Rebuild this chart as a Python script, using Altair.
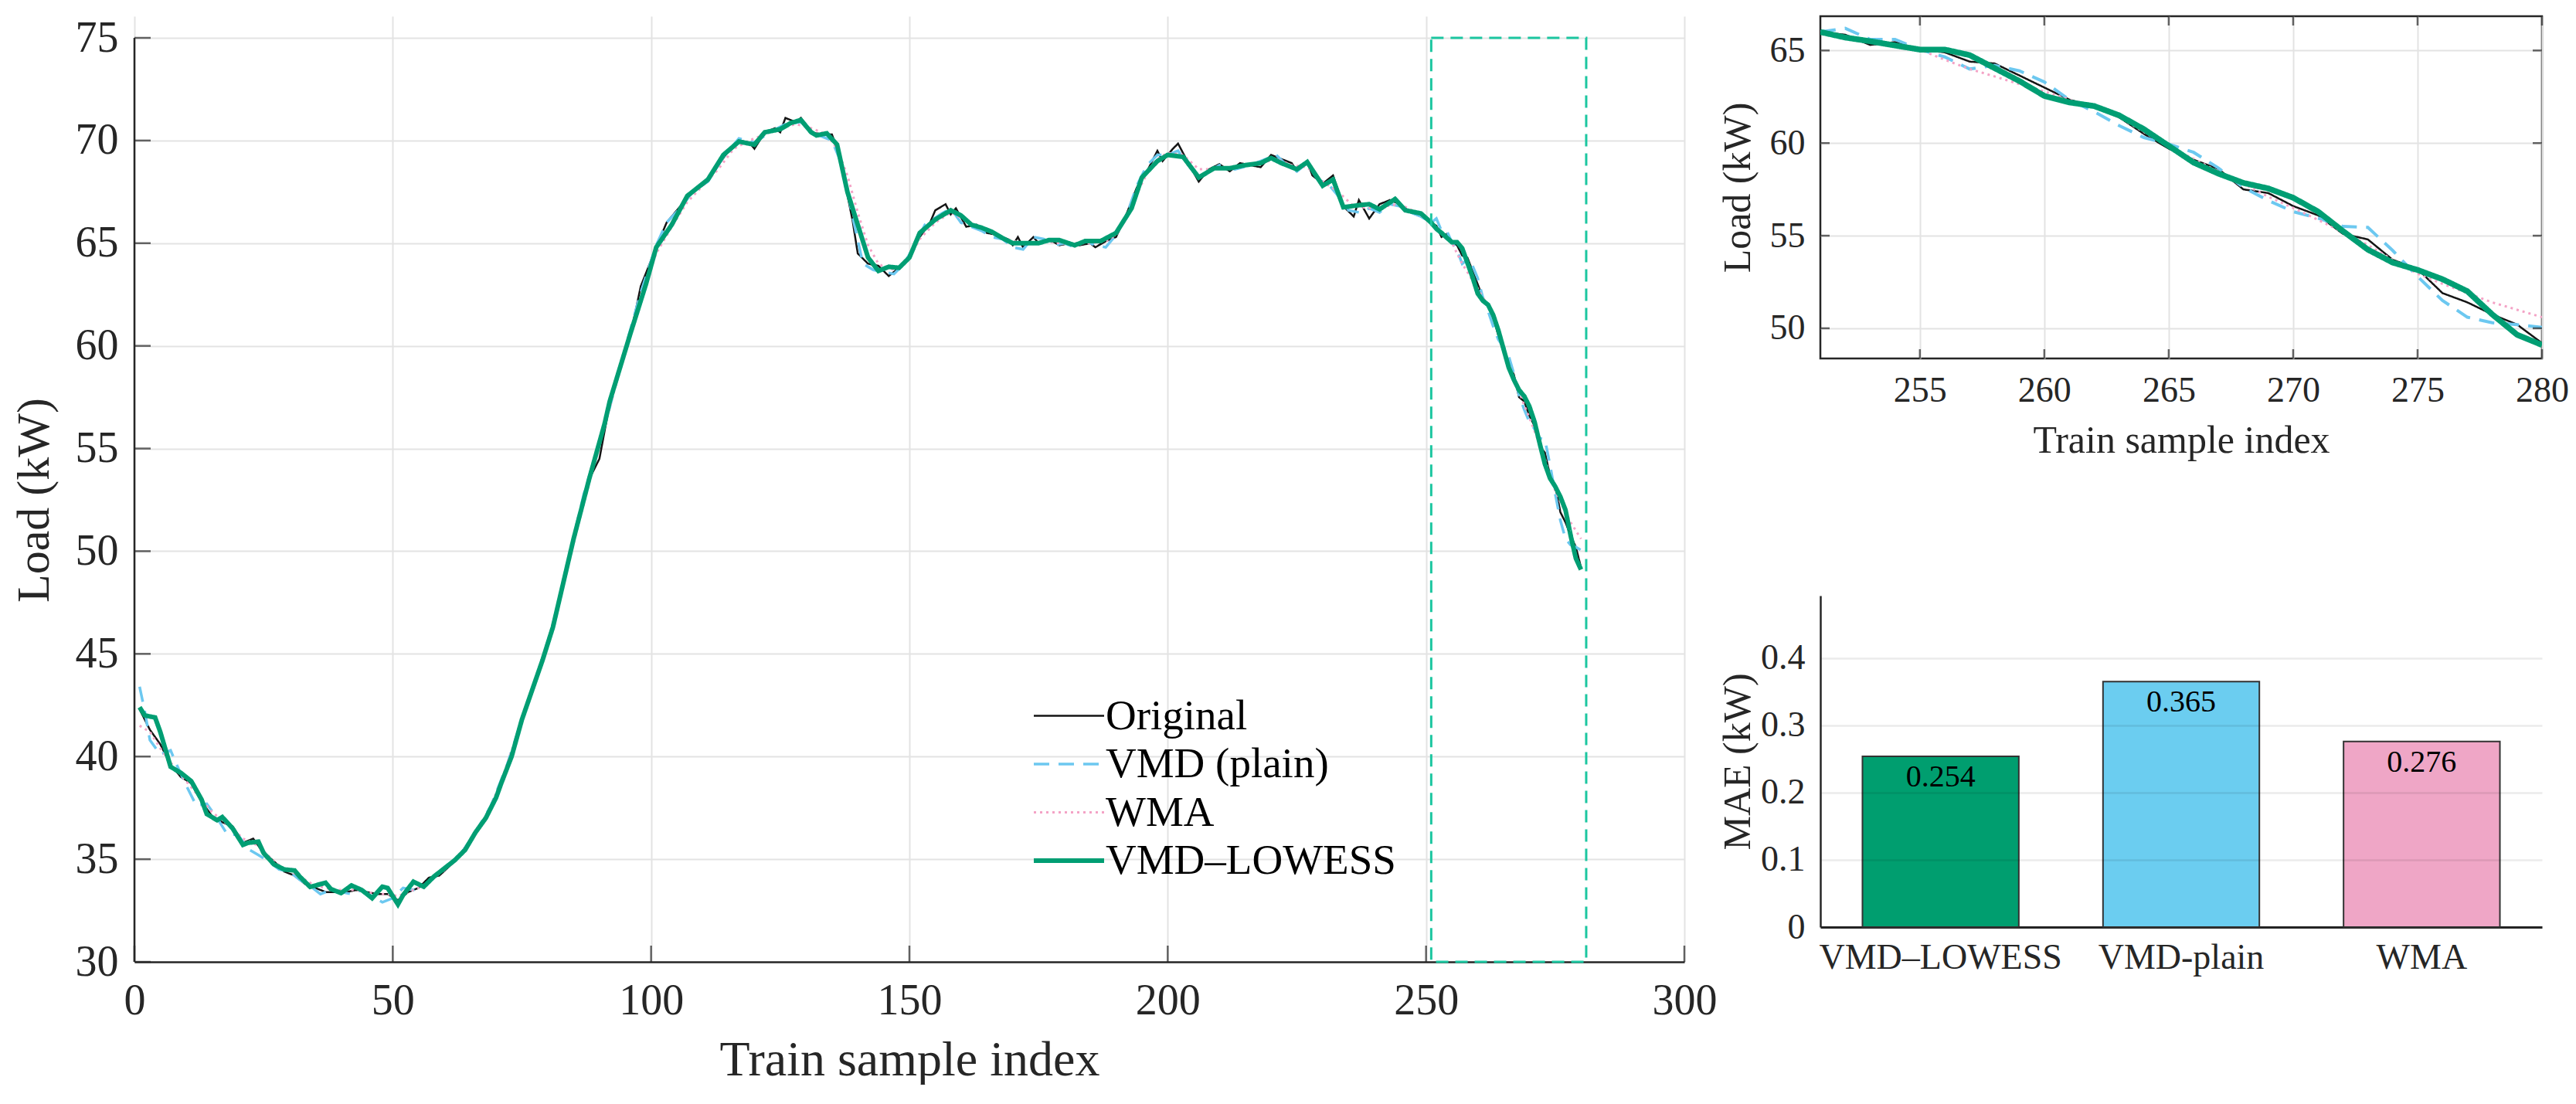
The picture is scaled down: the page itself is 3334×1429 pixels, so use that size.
import altair as alt
import pandas as pd

FONT = "Liberation Serif"
INK = "#262626"

# ---------------- series (index, value) ----------------
SERIES = ["Original", "VMD (plain)", "WMA", "VMD–LOWESS"]
COLORS = ["#141414", "#6cc8f0", "#f4a3c6", "#009e73"]
DASHES = [[1, 0], [20, 12], [3, 5], [1, 0]]
WIDTHS = [2.5, 3.5, 3, 6]
INSET_WIDTHS = [2.5, 4, 3, 7.5]

tail_idx = list(range(251, 281))

lowess_idx = [1, 2, 4, 5, 7, 9, 11, 13, 14, 16, 17, 19, 21, 22, 24, 25, 27, 29, 31, 32, 34, 37, 38, 40,
              42, 44, 46, 48, 49, 51, 52, 54, 56, 58, 62, 64, 66, 68, 70, 71, 73, 75, 79, 81, 85, 88,
              91, 92, 96, 99, 101, 104, 107, 111, 114, 117, 120, 122, 125, 127, 129, 131, 132, 134,
              136, 138, 140, 142, 144, 146, 148, 150, 152, 155, 158, 160, 162, 164, 166, 168, 170,
              172, 175, 177, 179, 182, 184, 187, 190, 193, 195, 198, 200, 203, 206, 209, 212, 215,
              218, 220, 222, 225, 227, 230, 232, 234, 237, 239, 241, 244, 246, 249] + tail_idx
lowess_val = [42.4, 42.0, 41.9, 41.2, 39.5, 39.2, 38.8, 37.9, 37.2, 36.9, 37.05, 36.5, 35.7, 35.8,
              35.85, 35.3, 34.75, 34.5, 34.45, 34.15, 33.65, 33.85, 33.55, 33.35, 33.72, 33.5, 33.1,
              33.66, 33.6, 32.8, 33.25, 33.9, 33.66, 34.16, 34.95, 35.45, 36.3, 37.0, 38.0, 38.7,
              40.0, 41.8, 44.7, 46.3, 50.6, 53.5, 56.2, 57.3, 60.6, 63.0, 64.8, 65.9, 67.3, 68.1,
              69.3, 69.95, 69.8, 70.4, 70.55, 70.85, 71.0, 70.4, 70.25, 70.35, 69.8, 67.5, 65.9,
              64.3, 63.65, 63.85, 63.8, 64.3, 65.5, 66.15, 66.6, 66.35, 65.9, 65.75, 65.55, 65.25,
              65.0, 65.0, 65.0, 65.15, 65.15, 64.9, 65.1, 65.1, 65.5, 66.7, 68.2, 69.0, 69.3, 69.2,
              68.2, 68.65, 68.65, 68.8, 68.9, 69.15, 68.9, 68.6, 68.95, 67.8, 68.1, 66.75, 66.85,
              66.9, 66.65, 67.15, 66.6, 66.45,
              66.0, 65.7, 65.5, 65.27, 65.05, 65.05, 64.75, 64.05, 63.35, 62.55, 62.2, 62.0, 61.5,
              60.75, 59.85, 58.95, 58.35, 57.85, 57.55, 57.05, 56.3, 55.25, 54.25, 53.55, 53.15,
              52.65, 52.0, 50.75, 49.65, 49.1]

orig_idx = [1, 3, 5, 7, 9, 11, 13, 15, 17, 19, 21, 23, 25, 27, 29, 31, 33, 35, 37, 39, 41, 43, 45,
            47, 49, 51, 53, 55, 57, 59, 62, 65, 67, 70, 73, 76, 79, 82, 85, 88, 90, 92, 94, 96, 98,
            101, 103, 105, 107, 109, 111, 113, 115, 117, 119, 120, 122, 124, 125, 126, 128, 129,
            131, 133, 135, 136, 137, 139, 140, 142, 144, 146, 148, 150, 152, 154, 155, 157, 158,
            159, 161, 163, 165, 167, 169, 170, 171, 172, 174, 175, 177, 179, 181, 183, 185, 186,
            188, 190, 192, 194, 196, 198, 199, 201, 202, 204, 206, 208, 210, 212, 214, 216, 218,
            220, 222, 224, 225, 227, 228, 230, 232, 234, 236, 237, 239, 241, 243, 245, 247,
            249] + tail_idx
orig_val = [42.3, 41.3, 40.6, 39.6, 39.0, 38.7, 37.8, 37.1, 36.8, 36.6, 35.8, 36.0, 35.3, 34.9,
            34.4, 34.2, 33.8, 33.6, 33.4, 33.4, 33.4, 33.5, 33.4, 33.3, 33.3, 33.0, 33.4, 33.6,
            34.1, 34.2, 34.9, 35.9, 36.6, 38.0, 40.0, 42.5, 44.6, 47.2, 50.5, 53.5, 54.5, 57.2,
            58.9, 60.5, 62.9, 64.8, 66.0, 66.6, 67.2, 67.7, 68.0, 68.8, 69.5, 70.0, 69.9, 69.6,
            70.4, 70.6, 70.4, 71.1, 70.9, 71.1, 70.4, 70.3, 70.3, 69.6, 68.6, 66.1, 64.5, 64.0,
            63.9, 63.4, 63.8, 64.4, 65.3, 66.0, 66.6, 66.9, 66.4, 66.7, 65.8, 65.9, 65.5, 65.4,
            65.2, 64.9, 65.3, 64.8, 65.3, 65.0, 65.2, 64.9, 65.0, 64.9, 65.0, 64.8, 65.1, 65.3,
            66.4, 67.7, 68.5, 69.5, 69.0, 69.6, 69.85, 68.9, 68.0, 68.6, 68.85, 68.5, 68.9, 68.8,
            68.7, 69.3, 69.1, 68.9, 68.5, 69.0, 68.3, 67.9, 68.3, 66.8, 66.3, 67.1, 66.2, 66.9,
            67.1, 66.9, 66.5, 66.3,
            66.0, 65.85, 65.3, 65.45, 65.05, 64.9, 64.4, 64.3, 63.65, 63.0, 62.35, 61.95, 61.4,
            60.5, 59.7, 59.1, 58.6, 57.5, 57.3, 56.6, 56.1, 55.1, 54.8, 53.7, 53.2, 51.9, 51.4,
            50.75, 50.2, 49.2]

vmd_idx = [1, 2, 3, 5, 7, 8, 10, 12, 14, 16, 18, 20, 22, 24, 26, 28, 30, 32, 34, 36, 38, 40, 42,
           44, 46, 48, 50, 52, 54, 56, 58, 60, 63, 66, 69, 72, 75, 78, 81, 84, 87, 90, 92, 95, 98,
           101, 103, 106, 108, 111, 114, 117, 120, 123, 126, 129, 132, 135, 137, 139, 141, 143,
           145, 147, 149, 151, 153, 156, 158, 160, 162, 164, 166, 168, 170, 172, 174, 176, 178,
           180, 182, 184, 186, 188, 190, 192, 194, 196, 198, 200, 202, 204, 206, 208, 210, 213,
           216, 219, 221, 223, 225, 227, 229, 231, 233, 235, 237, 239, 241, 243, 245, 247,
           249] + tail_idx
vmd_val = [43.4, 42.2, 40.8, 40.1, 40.3, 39.7, 38.6, 37.6, 37.7, 37.0, 36.2, 36.2, 35.5, 35.2,
           34.9, 34.5, 34.4, 34.0, 33.7, 33.3, 33.5, 33.4, 33.3, 33.5, 33.2, 32.9, 33.1, 33.6,
           33.5, 33.7, 34.1, 34.5, 35.2, 36.3, 37.6, 39.5, 41.8, 44.0, 46.4, 49.6, 52.8, 55.3,
           57.0, 59.9, 62.6, 64.9, 66.0, 66.8, 67.5, 68.0, 69.2, 70.1, 69.9, 70.4, 70.8, 70.9,
           70.3, 70.0, 68.8, 66.3, 64.0, 63.7, 63.6, 63.5, 64.0, 64.9, 65.9, 66.4, 66.7, 66.0,
           65.8, 65.6, 65.3, 65.2, 64.8, 64.7, 65.3, 65.2, 64.9, 65.0, 64.8, 65.1, 64.9, 64.8,
           65.4, 66.3, 67.8, 68.8, 69.3, 69.3, 69.5, 68.8, 68.3, 68.5, 68.8, 68.6, 68.8, 69.1,
           69.3, 68.8, 68.5, 68.9, 68.1, 67.9, 67.3, 66.6, 66.5, 66.7, 66.5, 66.9, 66.8, 66.5,
           66.3,
           66.0, 66.2, 65.6, 65.6, 65.05, 64.65, 64.0, 64.2, 63.9, 63.3, 62.35, 61.7, 60.95,
           60.3, 59.95, 59.5, 58.65, 57.6, 56.9, 56.3, 55.95, 55.5, 55.45, 54.2, 52.8, 51.5,
           50.6, 50.3, 50.2, 50.05]

wma_idx = [1, 3, 5, 7, 9, 11, 13, 15, 17, 19, 21, 23, 25, 27, 29, 31, 33, 35, 37, 39, 41, 43, 45,
           47, 49, 51, 53, 55, 57, 59, 62, 65, 68, 71, 74, 77, 80, 83, 86, 89, 92, 95, 98, 101,
           104, 107, 110, 113, 116, 119, 122, 125, 128, 131, 134, 136, 138, 140, 142, 144, 146,
           148, 150, 152, 155, 158, 161, 164, 167, 170, 173, 176, 179, 182, 185, 188, 190, 192,
           194, 196, 198, 200, 203, 206, 209, 212, 215, 218, 221, 224, 227, 230, 233, 236, 239,
           242, 245, 248, 250] + tail_idx
wma_val = [41.5, 41.2, 40.4, 39.7, 39.1, 38.5, 37.9, 37.3, 36.9, 36.5, 36.0, 35.8, 35.4, 34.9,
           34.5, 34.3, 34.0, 33.7, 33.6, 33.5, 33.5, 33.5, 33.4, 33.3, 33.3, 33.2, 33.4, 33.6,
           33.9, 34.3, 34.9, 35.9, 37.0, 38.8, 41.0, 43.3, 45.6, 48.3, 51.4, 54.3, 57.0, 59.8,
           62.4, 64.5, 65.8, 67.0, 67.8, 68.6, 69.6, 70.0, 70.3, 70.6, 70.8, 70.6, 70.3, 69.6,
           68.3, 66.5, 64.9, 64.0, 63.7, 63.8, 64.3, 65.2, 66.0, 66.5, 66.1, 65.7, 65.4, 65.1,
           65.0, 65.1, 65.0, 65.0, 65.0, 65.1, 65.4, 66.2, 67.4, 68.4, 69.1, 69.4, 69.3, 68.6,
           68.6, 68.7, 68.8, 68.9, 69.1, 68.8, 68.7, 68.0, 67.5, 66.8, 66.7, 66.8, 66.9, 66.5,
           66.2,
           65.97, 65.75, 65.5, 65.25, 65.04, 64.5, 64.0, 63.6, 63.18, 62.8, 62.35, 61.95, 61.4,
           60.6, 59.8, 59.15, 58.45, 57.8, 57.1, 56.5, 55.85, 55.2, 54.5, 53.7, 52.95, 52.4,
           51.9, 51.4, 51.0, 50.6]

# zoom window drawn on the main panel and used by the inset
zoom_start, zoom_end = 251, 281
inset_x_domain = [251, 280]
inset_y_domain = [48.37, 66.85]

# axis ticks
main_x_ticks = [0, 50, 100, 150, 200, 250, 300]
main_y_ticks = [30, 35, 40, 45, 50, 55, 60, 65, 70, 75]
inset_x_ticks = [255, 260, 265, 270, 275, 280]
inset_y_ticks = [50, 55, 60, 65]

# MAE bar values
methods = ["VMD–LOWESS", "VMD-plain", "WMA"]
mae = [0.254, 0.365, 0.276]
bar_colors = ["#009e6f", "#6bcdf0", "#efa6c6"]
mae_ticks = [0, 0.1, 0.2, 0.3, 0.4]

# ---------------- build tables ----------------
frames = []
for name, ix, vv in [("Original", orig_idx, orig_val), ("VMD (plain)", vmd_idx, vmd_val),
                     ("WMA", wma_idx, wma_val), ("VMD–LOWESS", lowess_idx, lowess_val)]:
    frames.append(pd.DataFrame({"idx": ix, "val": vv, "series": name}))
lines_df = pd.concat(frames, ignore_index=True)

box_df = pd.DataFrame({"idx": [zoom_start], "idx2": [zoom_end],
                       "val": [main_y_ticks[0]], "val2": [main_y_ticks[-1]]})
yaxis_line_df = pd.DataFrame({"val": [main_y_ticks[0]], "val2": [main_y_ticks[-1]]})
mx_ticks_df = pd.DataFrame({"idx": main_x_ticks})
my_ticks_df = pd.DataFrame({"val": main_y_ticks})
ix_ticks_df = pd.DataFrame({"idx": inset_x_ticks})
iy_ticks_df = pd.DataFrame({"val": inset_y_ticks})
bar_df = pd.DataFrame({"method": methods, "mae": mae})

W_MAIN, H_PLOT = 2006, 1196
TOP_GAP = 28                      # empty band above the main axes (inset starts higher)
H_MAIN = H_PLOT + TOP_GAP
Y_TOP = 75 + TOP_GAP * 45 / H_PLOT
W_R, H_IN, H_BAR = 934, 443, 429

text_axis = dict(labelFont=FONT, titleFont=FONT, labelColor=INK, titleColor=INK,
                 titleFontWeight="normal", gridColor="#e3e3e3", gridWidth=2, ticks=False)

# ---------------- main panel ----------------
mx = alt.X("idx:Q", scale=alt.Scale(domain=[0, 300], nice=False),
           axis=alt.Axis(values=main_x_ticks, title="Train sample index", labelFontSize=56,
                         titleFontSize=64, labelPadding=23, titlePadding=16, labelFlush=False,
                         minExtent=79, maxExtent=79, domainColor=INK, domainWidth=2.5, **text_axis))
my = alt.Y("val:Q", scale=alt.Scale(domain=[30, Y_TOP], nice=False, zero=False),
           axis=alt.Axis(values=main_y_ticks, title="Load (kW)", labelFontSize=56,
                         titleFontSize=60, labelPadding=21, titlePadding=22, domain=False,
                         titleY=TOP_GAP + H_PLOT / 2,
                         minExtent=77, maxExtent=77, **text_axis))

# legend: horizontal line sample ~91 px long (custom path scaled by sqrt(size)/2 = 10)
leg = alt.Legend(title=None, orient="none", legendX=1182, legendY=878, symbolType="M-4.55,0L4.55,0",
                 symbolSize=400, labelFont=FONT, labelFontSize=55, labelColor="#000000",
                 labelLimit=0, labelOffset=20, rowPadding=6.5, padding=0)

main_layers = []
for s in SERIES:
    main_layers.append(
        alt.Chart(lines_df).transform_filter(alt.datum.series == s).mark_line(clip=True).encode(
            x=mx, y=my,
            color=alt.Color("series:N", scale=alt.Scale(domain=SERIES, range=COLORS), legend=leg),
            strokeDash=alt.StrokeDash("series:N", scale=alt.Scale(domain=SERIES, range=DASHES), legend=leg),
            strokeWidth=alt.StrokeWidth("series:N", scale=alt.Scale(type="ordinal", domain=SERIES, range=WIDTHS), legend=leg),
        )
    )

box = alt.Chart(box_df).mark_rect(fillOpacity=0, stroke="#1cc6a0", strokeWidth=3,
                                  strokeDash=[16, 9]).encode(x=mx, x2="idx2:Q", y=my, y2="val2:Q")
yline = alt.Chart(yaxis_line_df).mark_rule(color=INK, strokeWidth=2.5).encode(
    x=alt.value(0), y=my, y2="val2:Q")
mtick_x = alt.Chart(mx_ticks_df).mark_tick(orient="vertical", size=21, thickness=2.5, color=INK).encode(
    x=mx, y=alt.value(H_MAIN - 10.5))
mtick_y = alt.Chart(my_ticks_df).mark_tick(orient="horizontal", size=21, thickness=2.5, color=INK).encode(
    y=my, x=alt.value(10.5))

main = alt.layer(mtick_x, mtick_y, yline, *main_layers, box).properties(width=W_MAIN, height=H_MAIN)

# ---------------- inset panel ----------------
ix = alt.X("idx:Q", scale=alt.Scale(domain=inset_x_domain, nice=False, zero=False),
           axis=alt.Axis(values=inset_x_ticks, title="Train sample index", labelFontSize=46,
                         titleFontSize=50, labelPadding=19, titlePadding=16, domain=False,
                         labelFlush=False, minExtent=65, maxExtent=65, **text_axis))
iy = alt.Y("val:Q", scale=alt.Scale(domain=inset_y_domain, nice=False, zero=False),
           axis=alt.Axis(values=inset_y_ticks, title="Load (kW)", labelFontSize=46,
                         titleFontSize=50, labelPadding=20, titlePadding=3, domain=False,
                         minExtent=79, maxExtent=79, **text_axis))

inset_layers = []
for s, c, d, w in zip(SERIES, COLORS, DASHES, INSET_WIDTHS):
    inset_layers.append(
        alt.Chart(lines_df).transform_filter((alt.datum.series == s) & (alt.datum.idx >= 251))
        .mark_line(clip=True, color=c, strokeDash=d, strokeWidth=w).encode(x=ix, y=iy)
    )
itick_b = alt.Chart(ix_ticks_df).mark_tick(orient="vertical", size=12, thickness=2.5, color=INK).encode(
    x=ix, y=alt.value(H_IN - 6))
itick_t = alt.Chart(ix_ticks_df).mark_tick(orient="vertical", size=12, thickness=2.5, color=INK).encode(
    x=ix, y=alt.value(6))
itick_l = alt.Chart(iy_ticks_df).mark_tick(orient="horizontal", size=12, thickness=2.5, color=INK).encode(
    y=iy, x=alt.value(6))
itick_r = alt.Chart(iy_ticks_df).mark_tick(orient="horizontal", size=12, thickness=2.5, color=INK).encode(
    y=iy, x=alt.value(W_R - 6))

inset = alt.layer(*inset_layers, itick_b, itick_t, itick_l, itick_r).properties(
    width=W_R, height=H_IN, view=alt.ViewBackground(stroke=INK, strokeWidth=2.5))

# ---------------- MAE bars ----------------
bx = alt.X("method:N", sort=methods, scale=alt.Scale(paddingInner=0.35, paddingOuter=0.175),
           axis=alt.Axis(title=None, labelAngle=0, labelFontSize=46, labelPadding=17, labelLimit=0,
                         labelFont=FONT, labelColor=INK, domainColor=INK, domainWidth=3, ticks=False,
                         grid=False))
by = alt.Y("mae:Q", scale=alt.Scale(domain=[0, 0.4928], nice=False),
           axis=alt.Axis(values=mae_ticks, format="~g", title="MAE (kW)", labelFontSize=46,
                         titleFontSize=50, labelPadding=20, titlePadding=3, minExtent=79,
                         maxExtent=79, zindex=1, labelFont=FONT, titleFont=FONT, labelColor=INK,
                         titleColor=INK, titleFontWeight="normal", domainColor=INK, domainWidth=2.5,
                         gridColor="#000000", gridOpacity=0.08, gridWidth=2.5, ticks=False))
bars = alt.Chart(bar_df).mark_bar(stroke="#333333", strokeWidth=2).encode(
    x=bx, y=by, color=alt.Color("method:N", scale=alt.Scale(domain=methods, range=bar_colors), legend=None))
bar_text = alt.Chart(bar_df).mark_text(font=FONT, fontSize=40, baseline="middle", dy=27, color="#000000").encode(
    x=bx, y=by, text=alt.Text("mae:Q", format=".3f"))
bar_chart = alt.layer(bars, bar_text).properties(width=W_R, height=H_BAR)

right = alt.vconcat(inset, bar_chart, spacing=174).resolve_scale(color="independent")

chart = alt.hconcat(main, right, spacing=0).resolve_scale(
    color="independent", strokeDash="independent", strokeWidth="independent"
).properties(
    padding={"left": 6, "top": 11, "right": 0, "bottom": 0}, background="white"
).configure_view(stroke=None).configure_axis(
    labelFont=FONT, titleFont=FONT
).configure_legend(labelFont=FONT).configure_text(font=FONT).configure_title(font=FONT)

chart.save("out.html", embed_options={"renderer": "svg", "actions": False})
